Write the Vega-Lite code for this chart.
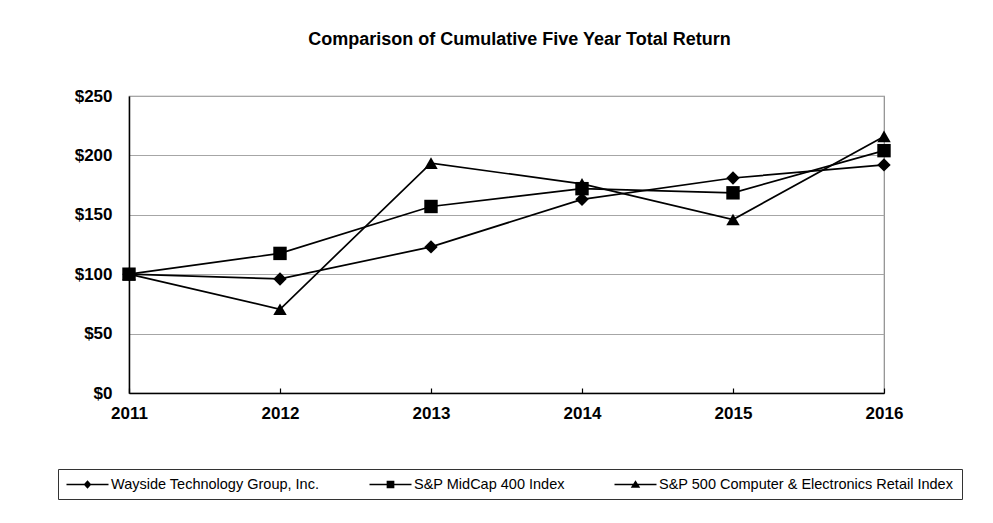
{
  "$schema": "https://vega.github.io/schema/vega-lite/v6.json",
  "description": "Comparison of cumulative five year total return, 2011-2016.",
  "autosize": "none",
  "padding": {"left": 129, "top": 96, "right": 109, "bottom": 130},
  "width": 755,
  "height": 297,
  "background": "white",
  "title": {
    "text": "Comparison of Cumulative Five Year Total Return",
    "font": "Liberation Sans",
    "fontSize": 18,
    "fontWeight": "bold",
    "color": "black",
    "frame": "group",
    "anchor": "middle",
    "baseline": "alphabetic",
    "offset": 24,
    "dx": 13
  },
  "config": {
    "font": "Liberation Sans",
    "view": {"stroke": "#8c8c8c", "strokeWidth": 1.2}
  },
  "data": {
    "values": [
      {"year": 2011, "series": "Wayside Technology Group, Inc.", "value": 100},
      {"year": 2012, "series": "Wayside Technology Group, Inc.", "value": 96},
      {"year": 2013, "series": "Wayside Technology Group, Inc.", "value": 123},
      {"year": 2014, "series": "Wayside Technology Group, Inc.", "value": 163},
      {"year": 2015, "series": "Wayside Technology Group, Inc.", "value": 181},
      {"year": 2016, "series": "Wayside Technology Group, Inc.", "value": 192},
      {"year": 2011, "series": "S&P MidCap 400 Index", "value": 100},
      {"year": 2012, "series": "S&P MidCap 400 Index", "value": 117.5},
      {"year": 2013, "series": "S&P MidCap 400 Index", "value": 157},
      {"year": 2014, "series": "S&P MidCap 400 Index", "value": 172},
      {"year": 2015, "series": "S&P MidCap 400 Index", "value": 168.5},
      {"year": 2016, "series": "S&P MidCap 400 Index", "value": 204},
      {"year": 2011, "series": "S&P 500 Computer & Electronics Retail Index", "value": 100},
      {"year": 2012, "series": "S&P 500 Computer & Electronics Retail Index", "value": 70.5},
      {"year": 2013, "series": "S&P 500 Computer & Electronics Retail Index", "value": 193.5},
      {"year": 2014, "series": "S&P 500 Computer & Electronics Retail Index", "value": 176},
      {"year": 2015, "series": "S&P 500 Computer & Electronics Retail Index", "value": 146},
      {"year": 2016, "series": "S&P 500 Computer & Electronics Retail Index", "value": 216}
    ]
  },
  "encoding": {
    "x": {
      "field": "year",
      "type": "quantitative",
      "scale": {"domain": [2011, 2016], "nice": false, "zero": false},
      "axis": {
        "title": null,
        "values": [2011, 2012, 2013, 2014, 2015, 2016],
        "format": "d",
        "grid": false,
        "domainColor": "black",
        "domainWidth": 1.5,
        "ticks": true,
        "tickSize": -5,
        "tickColor": "black",
        "tickWidth": 1.2,
        "labelFontSize": 17,
        "labelFontWeight": "bold",
        "labelColor": "black",
        "labelPadding": 17,
        "labelFlush": false
      }
    },
    "y": {
      "field": "value",
      "type": "quantitative",
      "scale": {"domain": [0, 250], "nice": false},
      "axis": {
        "title": null,
        "values": [0, 50, 100, 150, 200, 250],
        "format": "$d",
        "grid": true,
        "gridColor": "#a6a6a6",
        "gridWidth": 1.2,
        "domainColor": "black",
        "domainWidth": 1.5,
        "ticks": false,
        "labelFontSize": 17,
        "labelFontWeight": "bold",
        "labelColor": "black",
        "labelPadding": 17
      }
    }
  },
  "layer": [
    {
      "mark": {"type": "line", "color": "black", "strokeWidth": 1.7},
      "encoding": {"detail": {"field": "series"}}
    },
    {
      "mark": {"type": "point", "filled": true, "color": "black", "opacity": 1, "size": 180},
      "encoding": {
        "shape": {
          "field": "series",
          "type": "nominal",
          "scale": {
            "domain": ["Wayside Technology Group, Inc.", "S&P MidCap 400 Index", "S&P 500 Computer & Electronics Retail Index"],
            "range": ["diamond", "square", "triangle-up"]
          },
          "legend": null
        }
      }
    },
    {
      "mark": {"type": "point", "filled": true, "fill": "black", "stroke": "black", "strokeWidth": 1, "size": 0},
      "encoding": {
        "shape": {
          "field": "series",
          "type": "nominal",
          "scale": {
            "domain": ["Wayside Technology Group, Inc.", "S&P MidCap 400 Index", "S&P 500 Computer & Electronics Retail Index"],
            "range": [
              "M-1,-0.1H5V0.1H-1ZM2,-0.62L2.55,0L2,0.62L1.45,0Z",
              "M-1,-0.1H5V0.1H-1ZM1.45,-0.55H2.55V0.55H1.45Z",
              "M-1,-0.1H5V0.1H-1ZM2,-0.62L2.68,0.48L1.32,0.48Z"
            ]
          },
          "legend": {
            "title": null,
            "orient": "none",
            "direction": "horizontal",
            "columns": 3,
            "legendX": -71,
            "legendY": 373,
            "padding": 8,
            "strokeColor": "#333333",
            "fillColor": "white",
            "columnPadding": 47,
            "symbolSize": 196,
            "symbolFillColor": "black",
            "symbolStrokeColor": "black",
            "symbolStrokeWidth": 1,
            "symbolOpacity": 1,
            "labelOffset": 30,
            "labelFontSize": 14.5,
            "labelColor": "black",
            "labelLimit": 400
          }
        }
      }
    }
  ],
  "resolve": {"scale": {"shape": "independent"}}
}
